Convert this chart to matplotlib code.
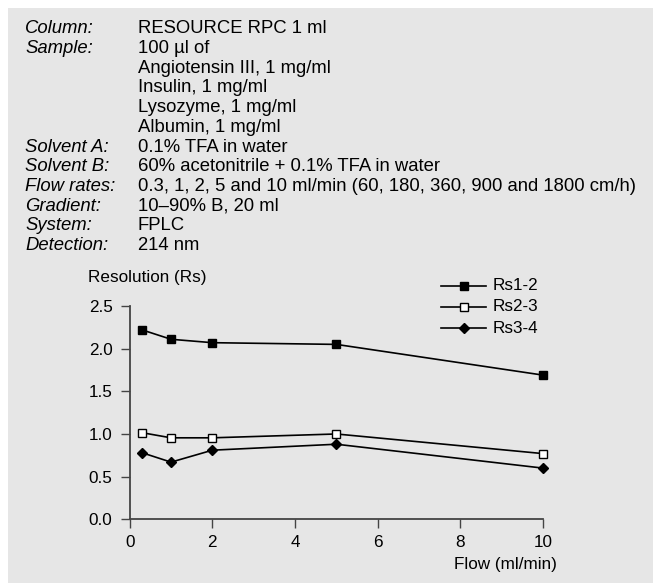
import matplotlib
matplotlib.use("Agg")
import matplotlib.pyplot as plt
from matplotlib.patches import Rectangle
from matplotlib.lines import Line2D

plt.rcParams['font.family'] = ['Liberation Sans', 'DejaVu Sans']

flow = [0.3, 1, 2, 5, 10]
rs12 = [2.22, 2.11, 2.07, 2.05, 1.69]
rs23 = [1.015, 0.955, 0.955, 1.00, 0.77]
rs34 = [0.78, 0.67, 0.81, 0.88, 0.60]
series_names = ["Rs1-2", "Rs2-3", "Rs3-4"]
xticks = [0, 2, 4, 6, 8, 10]
yticks = [0.0, 0.5, 1.0, 1.5, 2.0, 2.5]

info_labels = ["Column:", "Sample:", "", "", "", "", "Solvent A:", "Solvent B:",
               "Flow rates:", "Gradient:", "System:", "Detection:"]
info_values = ["RESOURCE RPC 1 ml", "100 µl of", "Angiotensin III, 1 mg/ml",
               "Insulin, 1 mg/ml", "Lysozyme, 1 mg/ml", "Albumin, 1 mg/ml",
               "0.1% TFA in water", "60% acetonitrile + 0.1% TFA in water",
               "0.3, 1, 2, 5 and 10 ml/min (60, 180, 360, 900 and 1800 cm/h)",
               "10–90% B, 20 ml", "FPLC", "214 nm"]

W, H = 653, 583
fig = plt.figure(figsize=(W / 100, H / 100), dpi=100)
fig.patch.set_facecolor('white')
bg = '#e6e6e6'
fig.patches.append(Rectangle((8 / W, 0), 1 - 8 / W, 1 - 8 / H, transform=fig.transFigure,
                             facecolor=bg, edgecolor='none', zorder=-10))

fs_info = 13.3
fs = 12.3
base0 = 33.3
step = 19.7
for i, (lab, val) in enumerate(zip(info_labels, info_values)):
    yb = 1 - (base0 + i * step) / H
    if lab:
        fig.text(25 / W, yb, lab, fontsize=fs_info, style='italic', va='baseline', ha='left')
    fig.text(137.5 / W, yb, val, fontsize=fs_info, va='baseline', ha='left')

x0, x1 = 129.7, 543.0
y0, y1 = 519.3, 306.0
ax = fig.add_axes([x0 / W, 1 - y0 / H, (x1 - x0) / W, (y0 - y1) / H])
ax.set_facecolor('none')
for s in ['top', 'right']:
    ax.spines[s].set_visible(False)
spc = '#444444'
for s in ['left', 'bottom']:
    ax.spines[s].set_color(spc)
    ax.spines[s].set_linewidth(1.3)
ax.set_xlim(0, 10)
ax.set_ylim(0, 2.5)
ax.set_xticks(xticks)
ax.set_xticklabels([str(v) for v in xticks])
ax.set_yticks(yticks)
ax.set_yticklabels([f"{v:.1f}" for v in yticks])
ax.tick_params(direction='out', length=6.8, width=1.0, color=spc, labelsize=fs)
ax.tick_params(axis='y', pad=5.5)
ax.tick_params(axis='x', pad=4.5)

lw = 1.2
common = dict(color='black', lw=lw, clip_on=False, markeredgecolor='black', markeredgewidth=1.0)
ax.plot(flow, rs12, marker='s', ms=6.0, markerfacecolor='black', zorder=3, **common)
ax.plot(flow, rs23, marker='s', ms=6.0, markerfacecolor='white', zorder=3, **common)
ax.plot(flow, rs34, marker='D', ms=5.4, markerfacecolor='black', zorder=3, **common)

fig.text(88.3 / W, 1 - 277.3 / H, "Resolution (Rs)", fontsize=fs, va='center', ha='left')
fig.text(557 / W, 1 - 565 / H, "Flow (ml/min)", fontsize=fs, va='center', ha='right')

# legend drawn manually in figure pixel space
styles = [dict(marker='s', ms=6.0, markerfacecolor='black'),
          dict(marker='s', ms=6.0, markerfacecolor='white'),
          dict(marker='D', ms=5.4, markerfacecolor='black')]
rows = [286, 306.7, 328.3]
for name, st, ry in zip(series_names, styles, rows):
    yy = 1 - ry / H
    fig.add_artist(Line2D([441 / W, 486 / W], [yy, yy], transform=fig.transFigure,
                          color='black', lw=lw))
    fig.add_artist(Line2D([463.5 / W], [yy], transform=fig.transFigure, color='black',
                          lw=0, markeredgecolor='black', markeredgewidth=1.0, **st))
    fig.text(493 / W, yy, name, fontsize=fs, va='center', ha='left')

fig.savefig('out.png', dpi=100, facecolor=fig.get_facecolor())
